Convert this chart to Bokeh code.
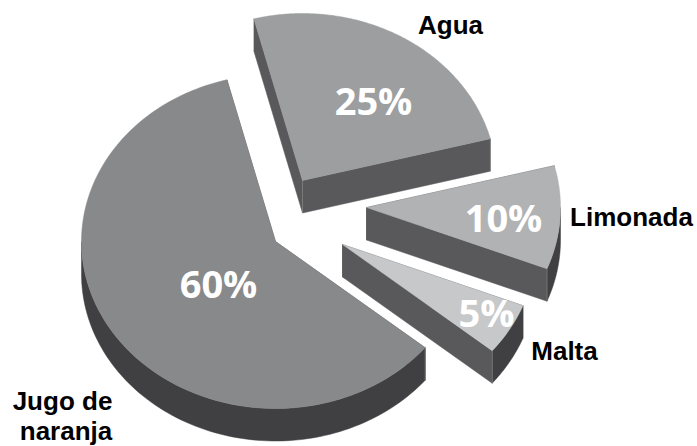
import math
from bokeh.plotting import figure
from bokeh.models import Range1d
from bokeh.core.properties import value
from bokeh.embed import file_html
from bokeh.resources import INLINE

# --- data ---
categories = ["Agua", "Limonada", "Malta", "Jugo de naranja"]
percent = [25, 10, 5, 60]
percent_labels = ["25%", "10%", "5%", "60%"]
top_colors = ["#9d9e9f", "#b1b2b3", "#c7c8ca", "#88898b"]

# --- layout (pixels in the window) ---
START_ANGLE = -14.5
RX, RY, DEPTH = 194, 167, 32.5
apex_x = [302, 366, 342, 275]
apex_y = [180, 207, 244, 241]
pct_x = [373, 503, 486, 218]
pct_y = [99, 216, 311, 282]
name_x = [450, 631, 564, 62, 65.5]
name_y = [24, 216, 350, 400, 430]
name_text = ["Agua", "Limonada", "Malta", "Jugo de", "naranja"]
RADIAL, RIM, EDGE = "#59595b", "#404042", "#808082"

W, H = 697, 446
p = figure(width=W, height=H, output_backend="svg", toolbar_location=None,
           x_range=Range1d(0, W), y_range=Range1d(H, 0),
           min_border=0, outline_line_color=None, background_fill_color="white")
p.axis.visible = False
p.grid.visible = False


def pt(ax, ay, deg):
    a = math.radians(deg)
    return ax + RX * math.sin(a), ay - RY * math.cos(a)


def arc(ax, ay, a0, a1, n=90):
    return [pt(ax, ay, a0 + (a1 - a0) * i / n) for i in range(n + 1)]


angle = START_ANGLE
for i, v in enumerate(percent):
    a0, a1 = angle, angle + v * 3.6
    angle = a1
    ax, ay = apex_x[i], apex_y[i]
    # radial side faces
    for a in (a0, a1):
        ex, ey = pt(ax, ay, a)
        p.patch([ax, ex, ex, ax], [ay, ey, ey + DEPTH, ay + DEPTH], fill_color=RADIAL, line_color=RADIAL, line_width=0.5)
    # outer rim, only the part that faces the viewer
    r0, r1 = max(a0, 90), min(a1, 270)
    if r1 > r0:
        rim = arc(ax, ay, r0, r1)
        xs = [q[0] for q in rim] + [q[0] for q in reversed(rim)]
        ys = [q[1] for q in rim] + [q[1] + DEPTH for q in reversed(rim)]
        p.patch(xs, ys, fill_color=RIM, line_color=RIM, line_width=0.5)
    # light vertical edges between the side faces
    ex, ey = pt(ax, ay, a1 if v < 50 else a0)
    p.line([ex, ex], [ey, ey + DEPTH], line_color=EDGE, line_width=0.8)
    if v < 50 and a0 < 20:
        p.line([ax, ax], [ay, ay + DEPTH], line_color=EDGE, line_width=0.8)
    # top face
    top = [(ax, ay)] + arc(ax, ay, a0, a1, 160)
    p.patch([q[0] for q in top], [q[1] for q in top], fill_color=top_colors[i], line_color=top_colors[i], line_width=0.5)

p.text(pct_x, pct_y, text=percent_labels, text_color="white", text_font=value("Open Sans"),
       text_font_style="bold", text_font_size="38px", text_align="center", text_baseline="middle")
p.text(name_x, name_y, text=name_text, text_color="black", text_font=value("Liberation Sans"),
       text_font_style="bold", text_font_size="26px", text_align="center", text_baseline="middle")

open("out.html", "w").write(file_html(p, INLINE))
